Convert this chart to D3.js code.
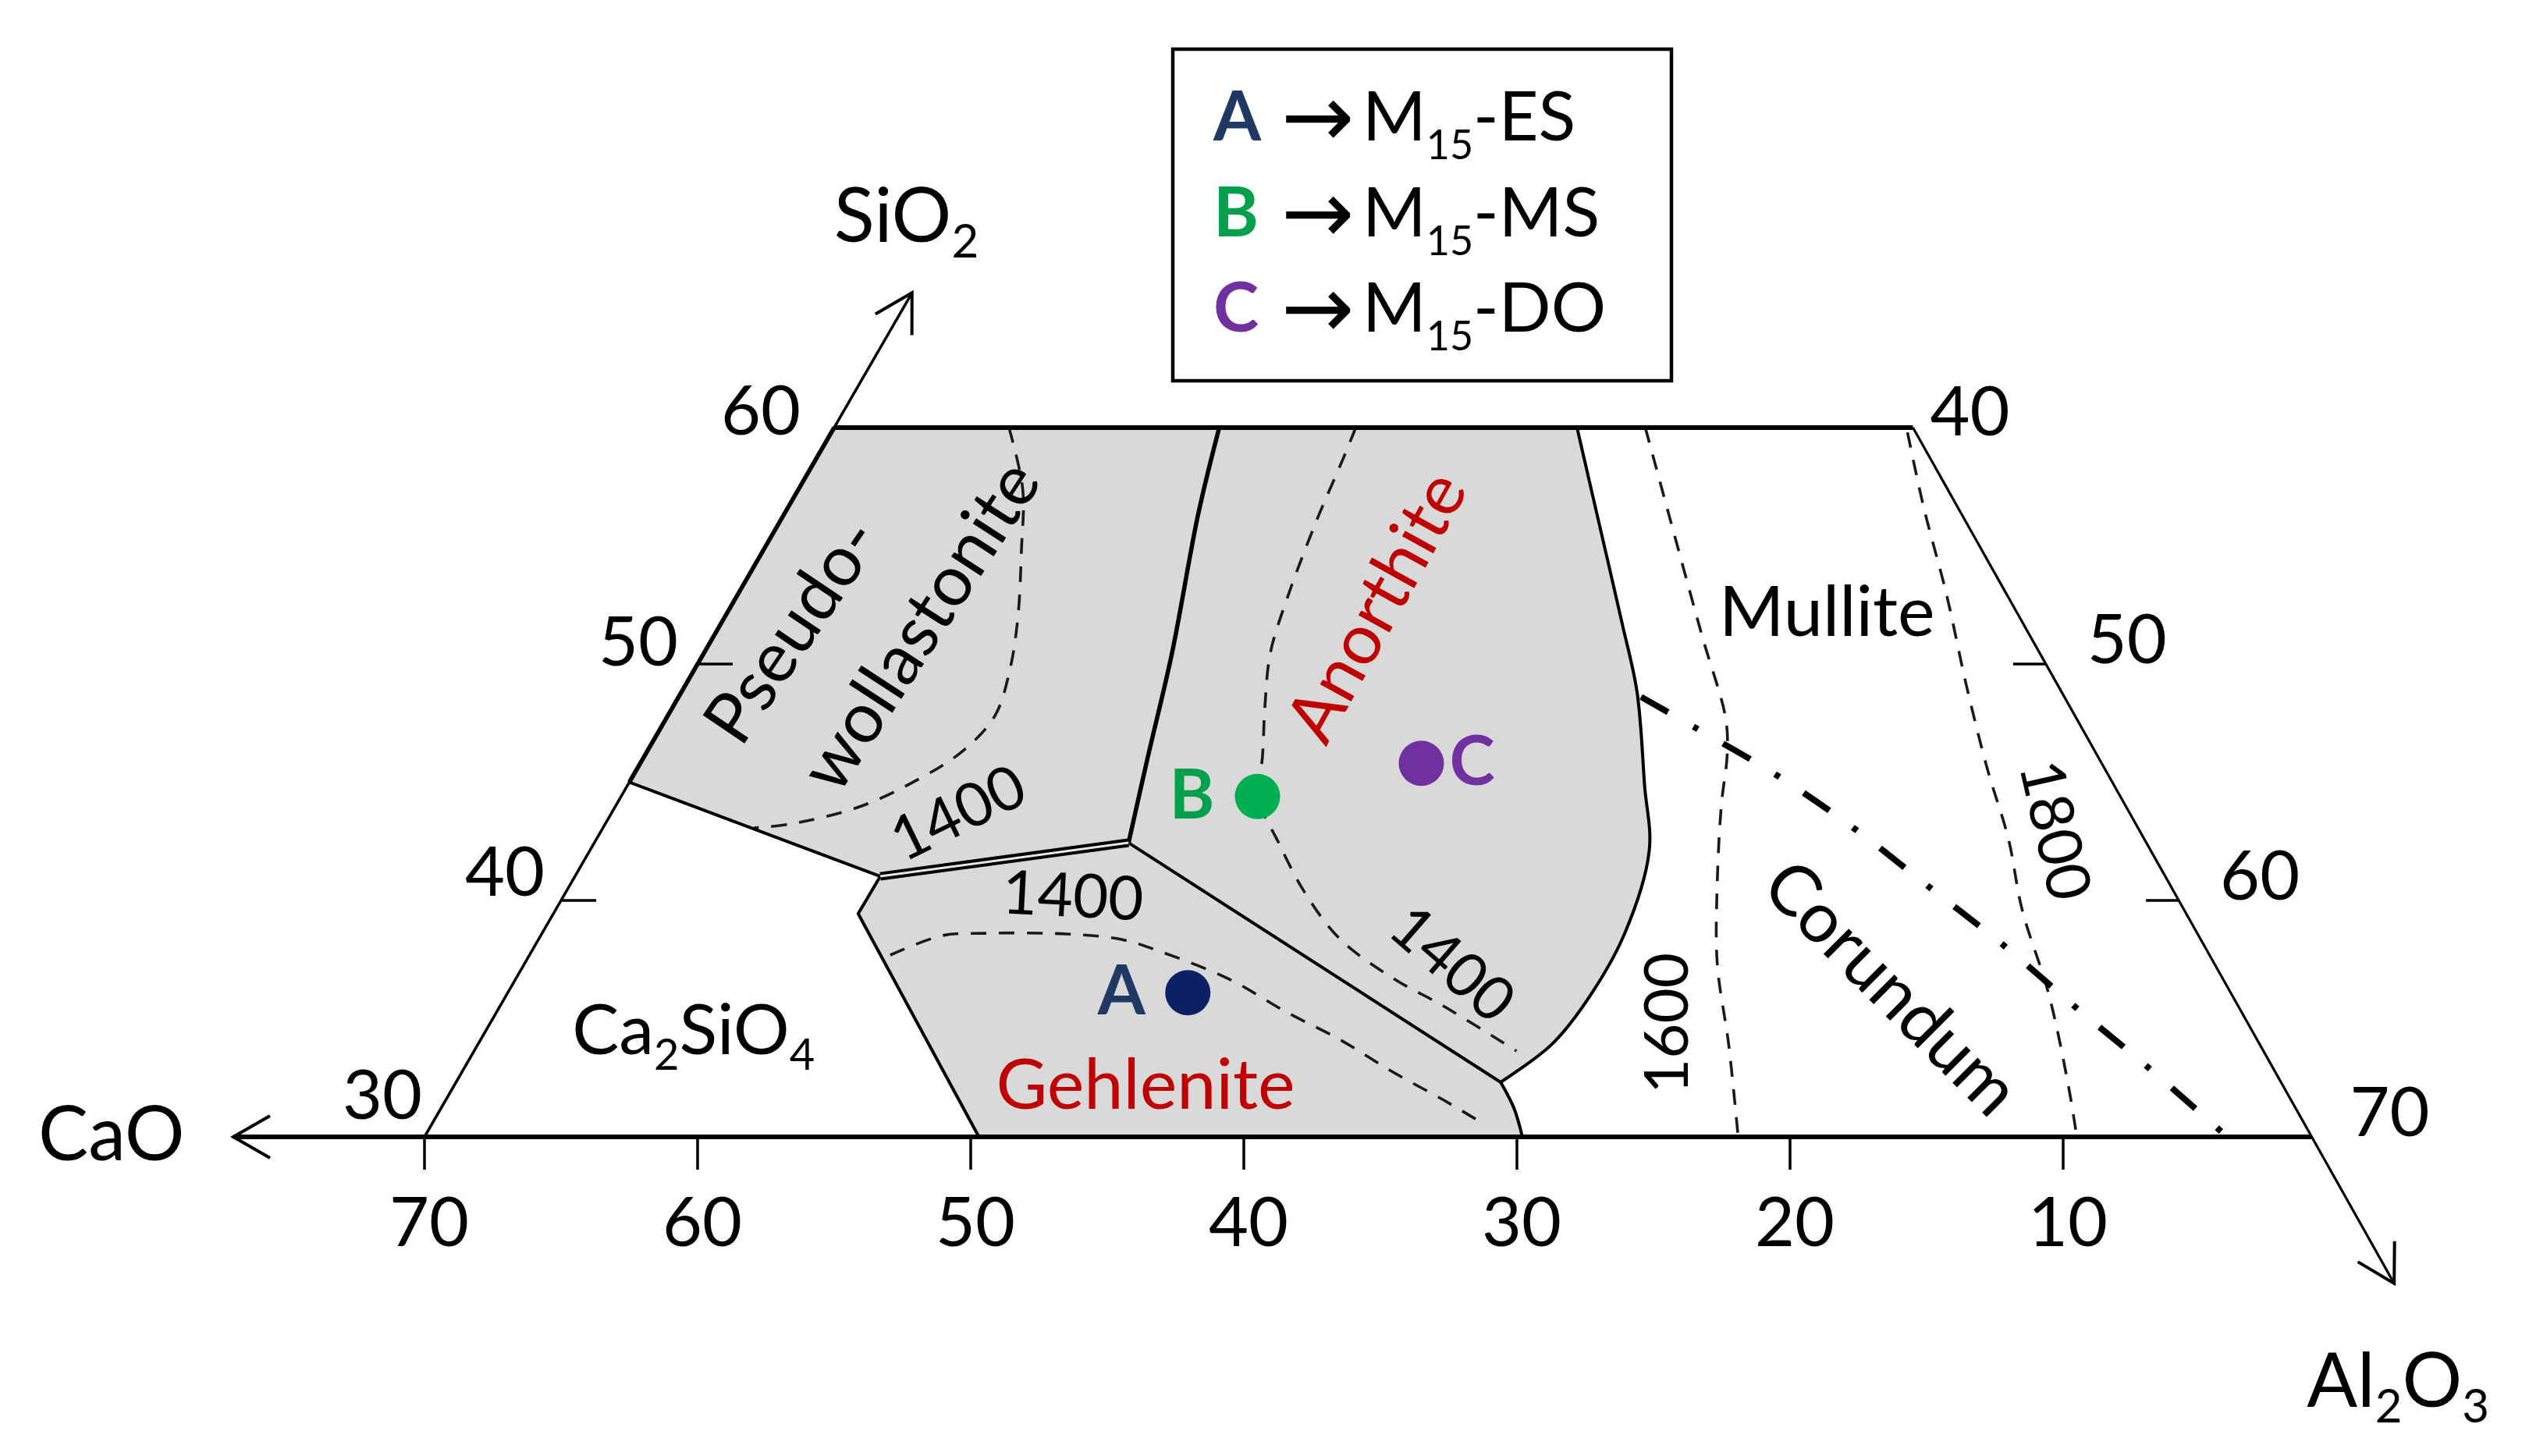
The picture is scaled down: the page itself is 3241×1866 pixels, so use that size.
<!DOCTYPE html>
<html>
<head>
<meta charset="utf-8">
<script src="https://cdn.jsdelivr.net/npm/d3@7"></script>
<style>
html, body { margin: 0; padding: 0; background: #fff; }
svg { display: block; }
text { font-family: Lato, "Open Sans", "DejaVu Sans", sans-serif; fill: #000; }
</style>
</head>
<body>
<svg id="chart" width="3241" height="1866"></svg>
<script>
// ---------------- DATA (compositions as [CaO wt%, SiO2 wt%], Al2O3 = 100 - CaO - SiO2) ----------------
const caoTicks = [70, 60, 50, 40, 30, 20, 10];
const sio2Ticks = [30, 40, 50, 60];
const al2o3Ticks = [40, 50, 60, 70];
const sio2TickMarks = [40, 50];
const al2o3TickMarks = [50, 60];

const frameLeft = [[70, 30], [40, 60]];
const frameTop = [[40, 60], [0.5, 60]];
const frameRight = [[0.5, 60], [0.9, 30]];
const caoArrowEnd = [77, 30];
const sio2ArrowEnd = [34.3, 65.7];
const al2o3ArrowEnd = [0.98, 23.8];

const pwAnBoundary = [[38.0, 42.44], [35.5, 46.04], [32.4, 50.46], [28.5, 56.34], [25.9, 60]];
const pwLowerBoundary = [[55.0, 45.0], [47.8, 41.02]];
const pwGehBoundary = [[47.8, 41.02], [38.0, 42.44]];
const gehAnBoundary = [[38.0, 42.44], [29.44, 32.31]];
const gehRightBoundary = [[29.44, 32.31], [29.5, 31.22], [29.8, 30]];
const gehLeftBoundary = [[47.8, 41.02], [49.4, 39.44], [49.7, 30]];
const anRightBoundary = [[12.8, 60], [13.9, 56.34], [15.3, 51.68], [16.2, 48.8], [17.9, 44.85], [19.1, 42.11], [21.8, 38.55], [24.65, 35.68], [26.8, 33.89], [29.44, 32.31]];

const iso1400Pw = [[33.6, 60], [34.4, 57.39], [35.7, 54.88], [37.3, 51.95], [38.7, 49.74], [40.2, 47.82], [42.1, 46.34], [44.3, 45.15], [47.1, 43.96], [50.0, 43.23], [51.4, 43.07]];
const iso1400An = [[20.9, 60], [22.0, 58.71], [24.3, 56.07], [27.0, 52.81], [28.8, 50.46], [30.1, 48.25], [31.3, 46.04], [32.3, 44.36], [32.5, 42.51], [32.6, 40.36], [32.3, 38.38], [31.2, 36.73], [29.9, 35.51], [28.2, 33.63]];
const iso1400Geh = [[49.1, 37.69], [46.8, 38.51], [45.2, 38.61], [42.2, 38.58], [40.3, 38.35], [39.1, 37.82], [37.2, 36.67], [35.8, 35.28], [34.4, 34.09], [33.2, 32.77], [31.9, 31.55], [30.9, 30.5]];
const iso1600 = [[10.3, 60], [12.6, 51.29], [13.5, 47.72], [14.2, 46.2], [15.5, 44.03], [17.3, 40.73], [19.0, 37.33], [20.3, 33.89], [21.9, 30]];
const iso1800 = [[0.8, 59.8], [1.8, 56.6], [2.8, 52.94], [4.0, 49.08], [5.0, 45.54], [5.7, 42.61], [6.7, 39.6], [7.5, 36.07], [8.7, 32.24], [9.5, 30]];
const mulliteCorundum = [[16.15, 48.61], [14.8, 47.29], [12.8, 45.25], [11.1, 43.0], [9.6, 40.53], [8.1, 38.05], [6.8, 35.48], [5.4, 32.9], [4.1, 30.23]];

const sampleIds = ["A", "B", "C"];
const sampleNames = ["ES", "MS", "DO"];
const sampleCaO = [39.0, 32.3, 25.6];
const sampleSiO2 = [36.1, 44.4, 45.8];

const phaseLabels = ["Pseudo-", "wollastonite", "Anorthite", "Mullite", "Corundum", "Gehlenite"];
const phaseLabelAt = [[45.9, 51.5], [41.1, 51.7], [24.0, 52.5], [8.05, 51.2], [13.0, 36.4], [43.0, 31.2]];
const isothermLabels = ["1400", "1400", "1400", "1600", "1800"];
const isothermLabelAt = [[43.6, 43.8], [41.1, 40.3], [28.6, 37.4], [22.2, 34.8], [3.7, 43.0]];
const ca2sio4At = [58.4, 33.5];

// ---------------- STYLE ----------------
const sampleDotColors = ["#0c2165", "#00b050", "#7030a0"];
const sampleTextColors = ["#1f3864", "#00a04c", "#7030a0"];
const gray = "#d9d9d9";
const red = "#c00000";
const sio2LabelNudge = [[18, -17], [0, 0], [-4, 8], [-22, 15]];
const al2o3LabelNudge = [[-31, 11], [0, 0], [0, 0], [-4, 0]];

// ---------------- SCALES / PROJECTION ----------------
const svg = d3.select("#chart");
const xScale = d3.scaleLinear().domain([0, 100]).range([19, 3519]);
const yScale = d3.scaleLinear().domain([30, 60]).range([1457, 548]);
const proj = d => [xScale(100 - d[0] - d[1] / 2), yScale(d[1])];
const straight = d3.line().x(d => proj(d)[0]).y(d => proj(d)[1]);
const smooth = d3.line().x(d => proj(d)[0]).y(d => proj(d)[1]).curve(d3.curveCatmullRom.alpha(0.5));
const seg = (pts, gen) => gen(pts).replace(/^M/, "L");
const rev = a => a.slice().reverse();
const rightEdge = si => [frameRight[1][0] + (si - 30) / 30 * (frameRight[0][0] - frameRight[1][0]), si];

svg.append("defs").append("marker")
  .attr("id", "arrow").attr("markerUnits", "userSpaceOnUse")
  .attr("viewBox", "-60 -35 70 70").attr("refX", 0).attr("refY", 0)
  .attr("markerWidth", 70).attr("markerHeight", 70).attr("orient", "auto")
  .append("path").attr("d", "M-47,-27 L0,0 L-47,27")
  .attr("fill", "none").attr("stroke", "#000").attr("stroke-width", 4);

// ---------------- FILLS ----------------
const P1 = pwLowerBoundary[0], P2 = pwGehBoundary[0], P3 = pwGehBoundary[1];
const fills = svg.append("g");
fills.append("path")
  .attr("d", "M" + proj(frameTop[0]) + seg(rev(pwAnBoundary), smooth) + "L" + proj(P2) + "L" + proj(P1) + "Z")
  .attr("fill", gray);
fills.append("path")
  .attr("d", "M" + proj(pwAnBoundary[pwAnBoundary.length - 1]) + seg(anRightBoundary, smooth) + "L" + proj(P3) + seg(pwAnBoundary, smooth) + "Z")
  .attr("fill", gray);
fills.append("path")
  .attr("d", "M" + proj(P2) + "L" + proj(P3) + seg(gehRightBoundary, smooth) + seg(rev(gehLeftBoundary), straight) + "Z")
  .attr("fill", gray);

// ---------------- ISOTHERMS ----------------
const iso = svg.append("g").attr("fill", "none").attr("stroke", "#1a1a1a")
  .attr("stroke-width", 3.6).attr("stroke-dasharray", "20 16");
[iso1400Pw, iso1400An, iso1400Geh, iso1600, iso1800].forEach(line => {
  iso.append("path").attr("d", smooth(line));
});
svg.append("path").attr("d", smooth(mulliteCorundum))
  .attr("fill", "none").attr("stroke", "#000").attr("stroke-width", 8)
  .attr("stroke-dasharray", "40 37 7 37");

// ---------------- PHASE BOUNDARIES ----------------
const bnd = svg.append("g").attr("fill", "none").attr("stroke", "#000").attr("stroke-linejoin", "round");
bnd.append("path").attr("d", smooth(pwAnBoundary)).attr("stroke-width", 5.5);
bnd.append("path").attr("d", straight(pwLowerBoundary)).attr("stroke-width", 4);
bnd.append("path").attr("d", straight(gehAnBoundary)).attr("stroke-width", 4);
bnd.append("path").attr("d", smooth(gehRightBoundary)).attr("stroke-width", 4);
bnd.append("path").attr("d", straight(gehLeftBoundary)).attr("stroke-width", 4);
bnd.append("path").attr("d", smooth(anRightBoundary)).attr("stroke-width", 4);
bnd.append("path").attr("d", straight(pwGehBoundary)).attr("stroke-width", 11);
bnd.append("path").attr("d", straight(pwGehBoundary)).attr("stroke-width", 3).attr("stroke", "#e6e6e6");

// ---------------- FRAME / AXES ----------------
const ax = svg.append("g").attr("fill", "none").attr("stroke", "#000");
ax.append("path").attr("d", straight([frameRight[1], caoArrowEnd])).attr("stroke-width", 6).attr("marker-end", "url(#arrow)");
ax.append("path").attr("d", straight([frameLeft[0], sio2ArrowEnd])).attr("stroke-width", 3.5).attr("marker-end", "url(#arrow)");
ax.append("path").attr("d", straight([P1, frameLeft[1]])).attr("stroke-width", 5.5);
ax.append("path").attr("d", straight(frameTop)).attr("stroke-width", 6);
ax.append("path").attr("d", straight([frameRight[0], al2o3ArrowEnd])).attr("stroke-width", 3.2).attr("marker-end", "url(#arrow)");

caoTicks.forEach(c => {
  const p = proj([c, 30]);
  ax.append("line").attr("x1", p[0]).attr("x2", p[0]).attr("y1", p[1]).attr("y2", p[1] + 42).attr("stroke-width", 3.5);
});
sio2TickMarks.forEach(s => {
  const p = proj([100 - s, s]);
  ax.append("line").attr("x1", p[0]).attr("x2", p[0] + 45).attr("y1", p[1]).attr("y2", p[1]).attr("stroke-width", 3.5);
});
al2o3TickMarks.forEach(a => {
  const p = proj(rightEdge(100 - a));
  ax.append("line").attr("x1", p[0]).attr("x2", p[0] - 42).attr("y1", p[1]).attr("y2", p[1]).attr("stroke-width", 3.5);
});

const tl = svg.append("g").attr("font-size", 88);
caoTicks.forEach(c => {
  const p = proj([c, 30]);
  tl.append("text").attr("x", p[0] + 6).attr("y", p[1] + 140).attr("text-anchor", "middle").text(c);
});
sio2Ticks.forEach((s, i) => {
  const p = proj([100 - s, s]);
  tl.append("text").attr("x", p[0] - 72 + sio2LabelNudge[i][0]).attr("y", p[1] - 40 + sio2LabelNudge[i][1])
    .attr("text-anchor", "middle").attr("dominant-baseline", "central").text(s);
});
al2o3Ticks.forEach((a, i) => {
  const p = proj(rightEdge(100 - a));
  tl.append("text").attr("x", p[0] + 104 + al2o3LabelNudge[i][0]).attr("y", p[1] - 35 + al2o3LabelNudge[i][1])
    .attr("text-anchor", "middle").attr("dominant-baseline", "central").text(a);
});

const an = svg.append("g").attr("font-size", 96);
const sioT = an.append("text").attr("x", proj(sio2ArrowEnd)[0] - 100).attr("y", proj(sio2ArrowEnd)[1] - 65);
sioT.append("tspan").text("SiO");
sioT.append("tspan").attr("font-size", 60).attr("dy", 20).text("2");
an.append("text").attr("x", proj(caoArrowEnd)[0] - 250).attr("y", proj(caoArrowEnd)[1] + 30).text("CaO");
const alT = an.append("text").attr("x", proj(al2o3ArrowEnd)[0] - 112).attr("y", proj(al2o3ArrowEnd)[1] + 158);
alT.append("tspan").text("Al");
alT.append("tspan").attr("font-size", 60).attr("dy", 20).text("2");
alT.append("tspan").attr("dy", -20).text("O");
alT.append("tspan").attr("font-size", 60).attr("dy", 20).text("3");

// ---------------- LABELS ----------------
const lab = svg.append("g");
const phaseRot = [-56, -57, -61, 0, 45, 0];
const phaseColor = ["#000", "#000", red, "#000", "#000", red];
phaseLabels.forEach((t, i) => {
  const p = proj(phaseLabelAt[i]);
  const el = lab.append("text").attr("font-size", 90).attr("text-anchor", "middle")
    .attr("transform", `translate(${p[0]},${p[1]}) rotate(${phaseRot[i]})`)
    .style("fill", phaseColor[i]).text(t);
  if (phaseRot[i] !== 0) el.attr("dominant-baseline", "central");
});
const isoRot = [-26, 3, 41, -90, 77];
isothermLabels.forEach((t, i) => {
  const p = proj(isothermLabelAt[i]);
  lab.append("text").attr("font-size", 78).attr("text-anchor", "middle").attr("dominant-baseline", "central")
    .attr("transform", `translate(${p[0]},${p[1]}) rotate(${isoRot[i]})`).text(t);
});
const caT = lab.append("text").attr("font-size", 90).attr("text-anchor", "middle")
  .attr("x", proj(ca2sio4At)[0]).attr("y", proj(ca2sio4At)[1]);
caT.append("tspan").text("Ca");
caT.append("tspan").attr("font-size", 56).attr("dy", 20).text("2");
caT.append("tspan").attr("dy", -20).text("SiO");
caT.append("tspan").attr("font-size", 56).attr("dy", 20).text("4");

// ---------------- SAMPLE POINTS ----------------
const pts = svg.append("g");
const labelDx = [-85, -84, 65];
sampleIds.forEach((id, i) => {
  const p = proj([sampleCaO[i], sampleSiO2[i]]);
  pts.append("circle").attr("cx", p[0]).attr("cy", p[1]).attr("r", 29).attr("fill", sampleDotColors[i]);
  pts.append("text").attr("x", p[0] + labelDx[i]).attr("y", p[1] - 6).attr("text-anchor", "middle")
    .attr("dominant-baseline", "central").attr("font-size", 88).attr("font-weight", "bold")
    .style("fill", sampleTextColors[i]).text(id);
});

// ---------------- LEGEND ----------------
const lg = svg.append("g");
lg.append("rect").attr("x", 1503).attr("y", 63).attr("width", 639).attr("height", 425)
  .attr("fill", "#fff").attr("stroke", "#000").attr("stroke-width", 4.5);
sampleIds.forEach((id, i) => {
  const t = lg.append("text").attr("y", 180 + i * 122.5).attr("font-size", 88);
  t.append("tspan").attr("x", 1555).attr("font-weight", "bold").style("fill", sampleTextColors[i]).text(id);
  t.append("tspan").attr("x", 1642).attr("font-family", "DejaVu Sans").attr("font-size", 112).attr("dy", 8).text("\u2192");
  t.append("tspan").attr("x", 1746).attr("dy", -8).text("M");
  t.append("tspan").attr("font-size", 52).attr("dy", 24).text("15");
  t.append("tspan").attr("dy", -24).text("-" + sampleNames[i]);
});
</script>
</body>
</html>
